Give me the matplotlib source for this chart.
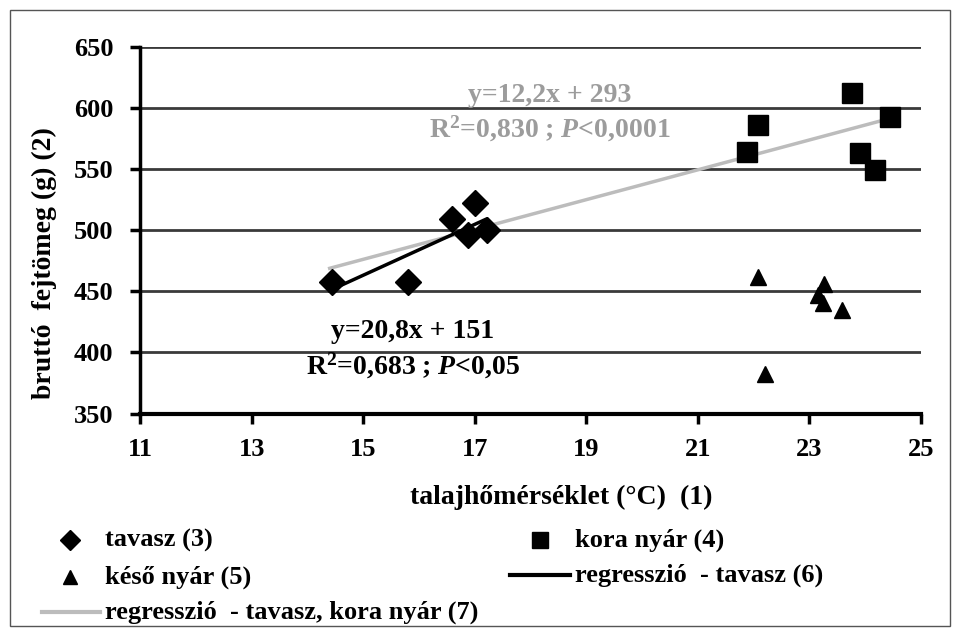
import matplotlib
matplotlib.use("Agg")
import matplotlib.pyplot as plt
from matplotlib.lines import Line2D
from matplotlib.patches import Rectangle
import numpy as np

plt.rcParams['font.family'] = ['Liberation Serif', 'DejaVu Serif']
plt.rcParams['font.weight'] = 'bold'
plt.rcParams['mathtext.fontset'] = 'custom'
plt.rcParams['mathtext.rm'] = 'Liberation Serif:bold'
plt.rcParams['mathtext.bf'] = 'Liberation Serif:bold'
plt.rcParams['mathtext.it'] = 'Liberation Serif:italic:bold'

# --- data ---
tavasz_x = [14.44, 15.81, 16.59, 17.0, 16.88, 17.22]
tavasz_y = [457.5, 457.5, 509.4, 521.7, 495.7, 499.8]
kora_x = [21.88, 22.07, 23.76, 23.90, 24.17, 24.44]
kora_y = [563.6, 585.7, 612.0, 562.8, 549.0, 592.3]
keso_x = [22.07, 22.2, 23.26, 23.16, 23.25, 23.59]
keso_y = [461.6, 382.5, 456.0, 446.6, 440.0, 434.3]

reg1_slope, reg1_int = 20.8, 151      # regresszió - tavasz
reg1_range = [14.4, 17.2]
reg2_slope, reg2_int = 12.2, 293      # regresszió - tavasz, kora nyár
reg2_range = [14.4, 24.5]

xticks = [11, 13, 15, 17, 19, 21, 23, 25]
yticks = [350, 400, 450, 500, 550, 600, 650]

W, H = 960, 634
fig = plt.figure(figsize=(W / 100, H / 100), dpi=100)
ax = fig.add_axes([140 / W, 1 - 413.5 / H, (921 - 140) / W, (413.5 - 46.5) / H])

ax.set_xlim(11, 25)
ax.set_ylim(350, 650)
ax.set_xticks(xticks)
ax.set_yticks(yticks)
for y in yticks[1:]:
    ax.axhline(y, color='#3a3a3a', lw=2.0, zorder=1)

gray = '#bcbcbc'
xr2 = np.array(reg2_range)
ax.plot(xr2, reg2_slope * xr2 + reg2_int, color=gray, lw=2.5, zorder=2)
xr1 = np.array(reg1_range)
ax.plot(xr1, reg1_slope * xr1 + reg1_int, color='black', lw=2.5, zorder=3)

ax.plot(tavasz_x, tavasz_y, 'D', color='black', ms=13, ls='none', zorder=4)
ax.plot(kora_x, kora_y, 's', color='black', ms=14, ls='none', zorder=4)
ax.plot(keso_x, keso_y, '^', color='black', ms=12, ls='none', zorder=4)

for s in ['top', 'right']:
    ax.spines[s].set_visible(False)
ax.spines['left'].set_linewidth(2.5)
ax.spines['bottom'].set_linewidth(3)
ax.tick_params(axis='both', direction='out', width=2.5, length=7, labelsize=19)
ax.tick_params(axis='x', pad=11)
ax.tick_params(axis='y', pad=12)
for lab in ax.get_xticklabels() + ax.get_yticklabels():
    lab.set_fontweight('bold')


def fx(px):
    return px / W


def fy(py):
    return 1 - py / H


fig.text(fx(561), fy(497), 'talajhőmérséklet (°C)  (1)', fontsize=20, fontweight='bold',
         ha='center', va='center')
fig.text(fx(44), fy(263), 'bruttó  fejtömeg (g) (2)', fontsize=20, fontweight='bold',
         ha='center', va='center', rotation=90)

# equations
eqgray = '#9c9c9c'
fig.text(fx(550), fy(95), 'y=12,2x + 293', ha='center', va='center',
         fontsize=20, color=eqgray, fontweight='bold')
fig.text(fx(550), fy(129), r'R$^{2}$=0,830 ; $\mathit{P}$<0,0001', ha='center', va='center',
         fontsize=20, color=eqgray, fontweight='bold')
fig.text(fx(413), fy(331), 'y=20,8x + 151', ha='center', va='center',
         fontsize=20, color='black', fontweight='bold')
fig.text(fx(413), fy(366), r'R$^{2}$=0,683 ; $\mathit{P}$<0,05', ha='center', va='center',
         fontsize=20, color='black', fontweight='bold')

# legend (manual)
fs = 19
fig.add_artist(Line2D([fx(70)], [fy(540)], marker='D', color='black', ms=10, ls='none'))
fig.text(fx(105), fy(540), 'tavasz (3)', fontsize=fs, fontweight='bold', va='center')
fig.add_artist(Line2D([fx(540)], [fy(540)], marker='s', color='black', ms=11, ls='none'))
fig.text(fx(575), fy(540), 'kora nyár (4)', fontsize=fs, fontweight='bold', va='center')
fig.add_artist(Line2D([fx(70)], [fy(577)], marker='^', color='black', ms=10, ls='none'))
fig.text(fx(105), fy(577), 'késő nyár (5)', fontsize=fs, fontweight='bold', va='center')
fig.add_artist(Line2D([fx(510), fx(570)], [fy(575), fy(575)], color='black', lw=3))
fig.text(fx(575), fy(575), 'regresszió  - tavasz (6)', fontsize=fs, fontweight='bold', va='center')
fig.add_artist(Line2D([fx(42), fx(100)], [fy(612), fy(612)], color=gray, lw=3))
fig.text(fx(105), fy(612), 'regresszió  - tavasz, kora nyár (7)', fontsize=fs, fontweight='bold', va='center')

# outer frame
fig.add_artist(Rectangle((fx(10), fy(626)), (950 - 10) / W, (626 - 10) / H,
                         transform=fig.transFigure, fill=False, edgecolor='#555555', lw=1))

fig.savefig('out.png', dpi=100, facecolor='white')
